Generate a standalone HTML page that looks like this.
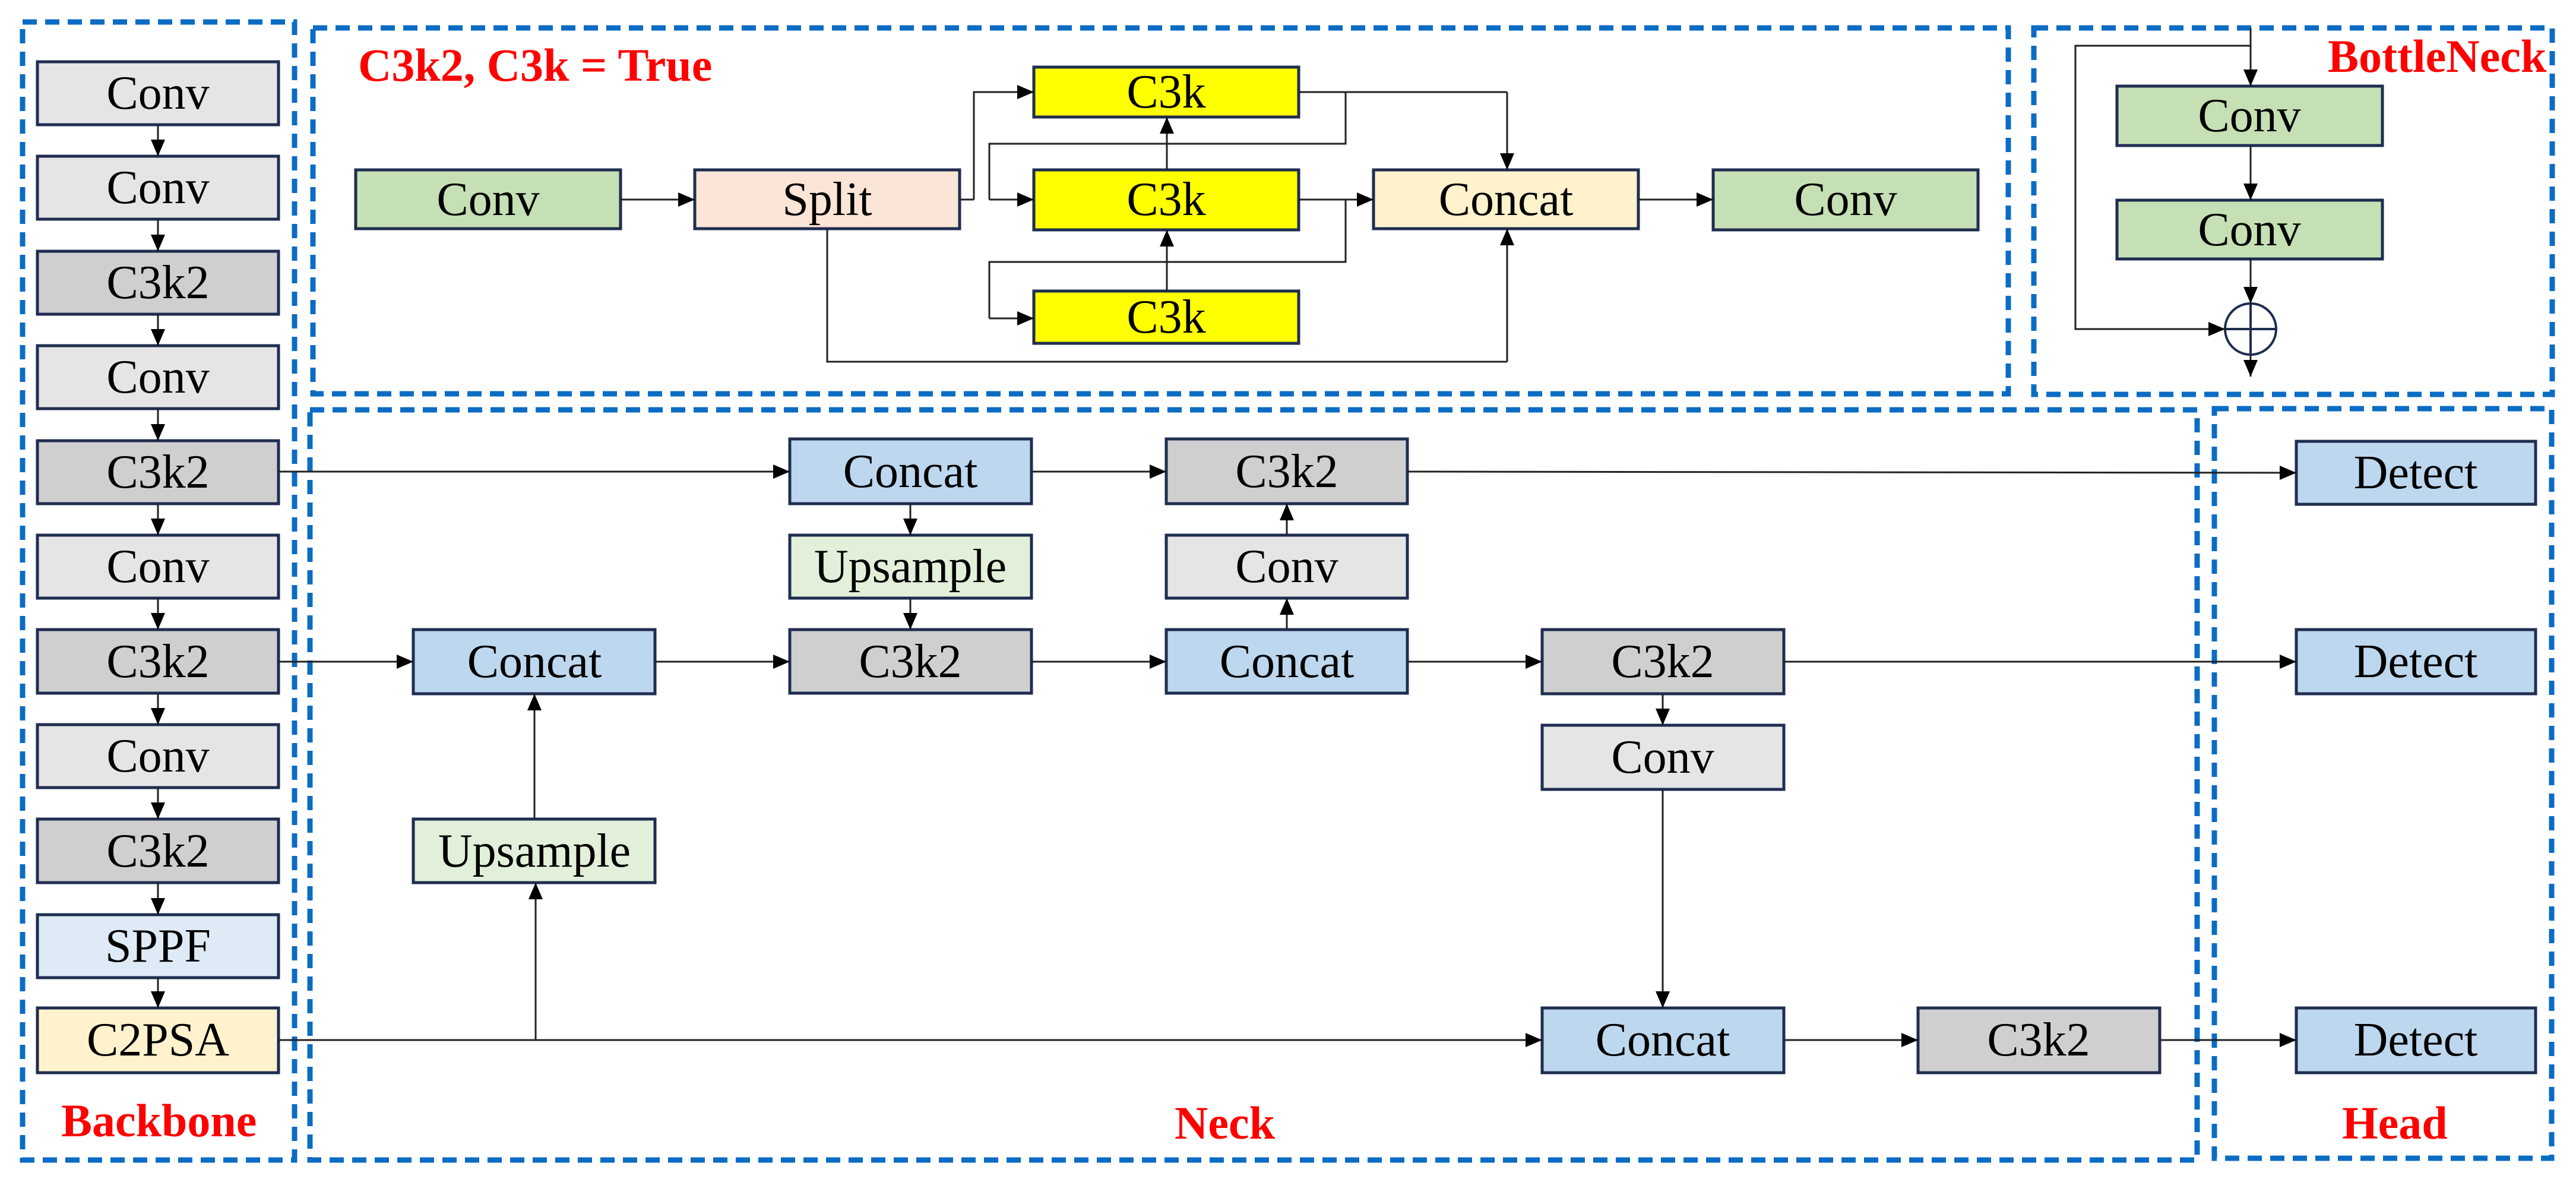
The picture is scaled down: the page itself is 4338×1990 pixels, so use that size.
<!DOCTYPE html>
<html><head><meta charset="utf-8"><style>
html,body{margin:0;padding:0;background:#fff;}
svg{display:block;}
text{font-family:"Liberation Serif",serif;}
.t{font-size:80px;text-anchor:middle;dominant-baseline:central;fill:#000;}
.r{font-size:78px;font-weight:bold;fill:#ff0000;}
.b{stroke:#1f2d50;stroke-width:5;}
.l{stroke:#222;stroke-width:3;fill:none;}
.d{fill:none;stroke:#0b6cc4;stroke-width:9;stroke-dasharray:24 14;}
</style></head><body>
<svg width="4338" height="1990" viewBox="0 0 4338 1990" xmlns="http://www.w3.org/2000/svg">
<defs>
<marker id="a" markerUnits="userSpaceOnUse" markerWidth="30" markerHeight="24" refX="28" refY="12" orient="auto">
<path d="M0,0 L28,12 L0,24 Z" fill="#000"/></marker>
</defs>

<!-- dashed regions -->
<rect class="d" x="38" y="37" width="458" height="1916"/>
<rect class="d" x="527" y="47" width="2855" height="616"/>
<rect class="d" x="3425" y="47" width="873" height="617"/>
<rect class="d" x="522" y="690" width="3178" height="1263"/>
<rect class="d" x="3729" y="688" width="568" height="1262"/>

<!-- labels -->
<text class="r" x="603" y="136">C3k2, C3k = True</text>
<text class="r" x="3920" y="121">BottleNeck</text>
<text class="r" x="103" y="1913">Backbone</text>
<text class="r" x="1978" y="1917">Neck</text>
<text class="r" x="3944" y="1917">Head</text>

<!-- backbone -->
<g>
<rect class="b" x="63" y="104" width="406" height="106" fill="#e6e5e6"/><text class="t" x="266" y="157">Conv</text>
<rect class="b" x="63" y="263" width="406" height="106" fill="#e6e5e6"/><text class="t" x="266" y="316">Conv</text>
<rect class="b" x="63" y="423" width="406" height="106" fill="#d0cfcf"/><text class="t" x="266" y="476">C3k2</text>
<rect class="b" x="63" y="582" width="406" height="106" fill="#e6e5e6"/><text class="t" x="266" y="635">Conv</text>
<rect class="b" x="63" y="742" width="406" height="106" fill="#d0cfcf"/><text class="t" x="266" y="795">C3k2</text>
<rect class="b" x="63" y="901" width="406" height="106" fill="#e6e5e6"/><text class="t" x="266" y="954">Conv</text>
<rect class="b" x="63" y="1060" width="406" height="107" fill="#d0cfcf"/><text class="t" x="266" y="1114">C3k2</text>
<rect class="b" x="63" y="1220" width="406" height="106" fill="#e6e5e6"/><text class="t" x="266" y="1273">Conv</text>
<rect class="b" x="63" y="1379" width="406" height="107" fill="#d0cfcf"/><text class="t" x="266" y="1433">C3k2</text>
<rect class="b" x="63" y="1540" width="406" height="106" fill="#deebf7"/><text class="t" x="266" y="1593">SPPF</text>
<rect class="b" x="63" y="1697" width="406" height="109" fill="#fff2cc"/><text class="t" x="266" y="1751">C2PSA</text>
</g>
<g class="l" marker-end="url(#a)">
<line x1="266" y1="210" x2="266" y2="263"/>
<line x1="266" y1="369" x2="266" y2="423"/>
<line x1="266" y1="529" x2="266" y2="582"/>
<line x1="266" y1="688" x2="266" y2="742"/>
<line x1="266" y1="848" x2="266" y2="901"/>
<line x1="266" y1="1007" x2="266" y2="1060"/>
<line x1="266" y1="1167" x2="266" y2="1220"/>
<line x1="266" y1="1326" x2="266" y2="1379"/>
<line x1="266" y1="1486" x2="266" y2="1540"/>
<line x1="266" y1="1646" x2="266" y2="1697"/>
</g>

<!-- C3k2 top module -->
<rect class="b" x="599" y="286" width="446" height="99" fill="#c5e0b4"/><text class="t" x="822" y="336">Conv</text>
<rect class="b" x="1170" y="286" width="446" height="99" fill="#fbe5d6"/><text class="t" x="1393" y="336">Split</text>
<rect class="b" x="1741" y="113" width="446" height="84" fill="#ffff00"/><text class="t" x="1964" y="155">C3k</text>
<rect class="b" x="1741" y="286" width="446" height="101" fill="#ffff00"/><text class="t" x="1964" y="336">C3k</text>
<rect class="b" x="1741" y="490" width="446" height="88" fill="#ffff00"/><text class="t" x="1964" y="534">C3k</text>
<rect class="b" x="2313" y="286" width="446" height="99" fill="#fff2cc"/><text class="t" x="2536" y="336">Concat</text>
<rect class="b" x="2885" y="286" width="446" height="101" fill="#c5e0b4"/><text class="t" x="3108" y="336">Conv</text>
<g class="l">
<line x1="2187" y1="155" x2="2538" y2="155"/>
<polyline points="2266,155 2266,242 1666,242 1666,336"/>
<polyline points="2187,336 2266,336 2266,441 1666,441 1666,536"/>
<line x1="1616" y1="336" x2="1640" y2="336"/>
<polyline points="1393,385 1393,609 2538,609"/>
</g>
<g class="l" marker-end="url(#a)">
<line x1="1045" y1="336" x2="1170" y2="336"/>
<polyline points="1640,336 1640,155 1741,155"/>
<line x1="1666" y1="336" x2="1741" y2="336"/>
<line x1="1666" y1="536" x2="1741" y2="536"/>
<line x1="2187" y1="336" x2="2313" y2="336"/>
<line x1="2538" y1="155" x2="2538" y2="286"/>
<line x1="2538" y1="609" x2="2538" y2="385"/>
<line x1="1965" y1="286" x2="1965" y2="197"/>
<line x1="1965" y1="490" x2="1965" y2="387"/>
<line x1="2759" y1="336" x2="2885" y2="336"/>
</g>

<!-- BottleNeck -->
<rect class="b" x="3565" y="145" width="447" height="100" fill="#c5e0b4"/><text class="t" x="3788" y="195">Conv</text>
<rect class="b" x="3565" y="337" width="447" height="99" fill="#c5e0b4"/><text class="t" x="3788" y="387">Conv</text>
<ellipse cx="3790" cy="554" rx="43" ry="43" fill="#fff" stroke="#1f2d50" stroke-width="4"/>
<line x1="3747" y1="554" x2="3833" y2="554" stroke="#1f2d50" stroke-width="4"/>
<line x1="3790" y1="511" x2="3790" y2="597" stroke="#1f2d50" stroke-width="4"/>
<g class="l">
<line x1="3790" y1="47" x2="3790" y2="77"/>
</g>
<g class="l" marker-end="url(#a)">
<line x1="3790" y1="77" x2="3790" y2="145"/>
<line x1="3790" y1="245" x2="3790" y2="337"/>
<line x1="3790" y1="436" x2="3790" y2="511"/>
<polyline points="3790,77 3495,77 3495,554 3747,554"/>
<line x1="3790" y1="597" x2="3790" y2="634"/>
</g>

<!-- Neck -->
<rect class="b" x="696" y="1060" width="407" height="108" fill="#bdd7ee"/><text class="t" x="900" y="1114">Concat</text>
<rect class="b" x="696" y="1379" width="407" height="107" fill="#e2f0d9"/><text class="t" x="900" y="1433">Upsample</text>
<rect class="b" x="1330" y="739" width="407" height="109" fill="#bdd7ee"/><text class="t" x="1533" y="794">Concat</text>
<rect class="b" x="1330" y="901" width="407" height="106" fill="#e2f0d9"/><text class="t" x="1533" y="954">Upsample</text>
<rect class="b" x="1330" y="1060" width="407" height="107" fill="#d0cfcf"/><text class="t" x="1533" y="1114">C3k2</text>
<rect class="b" x="1964" y="739" width="406" height="109" fill="#d0cfcf"/><text class="t" x="2167" y="794">C3k2</text>
<rect class="b" x="1964" y="901" width="406" height="106" fill="#e6e5e6"/><text class="t" x="2167" y="954">Conv</text>
<rect class="b" x="1964" y="1060" width="406" height="107" fill="#bdd7ee"/><text class="t" x="2167" y="1114">Concat</text>
<rect class="b" x="2597" y="1060" width="407" height="108" fill="#d0cfcf"/><text class="t" x="2800" y="1114">C3k2</text>
<rect class="b" x="2597" y="1221" width="407" height="108" fill="#e6e5e6"/><text class="t" x="2800" y="1275">Conv</text>
<rect class="b" x="2597" y="1697" width="407" height="109" fill="#bdd7ee"/><text class="t" x="2800" y="1751">Concat</text>
<rect class="b" x="3230" y="1697" width="407" height="109" fill="#d0cfcf"/><text class="t" x="3433" y="1751">C3k2</text>
<!-- Head -->
<rect class="b" x="3867" y="743" width="403" height="106" fill="#bdd7ee"/><text class="t" x="4068" y="796">Detect</text>
<rect class="b" x="3867" y="1060" width="403" height="108" fill="#bdd7ee"/><text class="t" x="4068" y="1114">Detect</text>
<rect class="b" x="3867" y="1697" width="403" height="109" fill="#bdd7ee"/><text class="t" x="4068" y="1751">Detect</text>

<g class="l" marker-end="url(#a)">
<line x1="469" y1="794" x2="1330" y2="794"/>
<line x1="469" y1="1114" x2="696" y2="1114"/>
<line x1="469" y1="1751" x2="2597" y2="1751"/>
<line x1="902" y1="1751" x2="902" y2="1486"/>
<line x1="900" y1="1379" x2="900" y2="1168"/>
<line x1="1103" y1="1114" x2="1330" y2="1114"/>
<line x1="1533" y1="848" x2="1533" y2="901"/>
<line x1="1533" y1="1007" x2="1533" y2="1060"/>
<line x1="1737" y1="794" x2="1964" y2="794"/>
<line x1="1737" y1="1114" x2="1964" y2="1114"/>
<line x1="2167" y1="1060" x2="2167" y2="1007"/>
<line x1="2167" y1="901" x2="2167" y2="848"/>
<line x1="2370" y1="794" x2="3867" y2="796"/>
<line x1="2370" y1="1114" x2="2597" y2="1114"/>
<line x1="3004" y1="1114" x2="3867" y2="1114"/>
<line x1="2800" y1="1168" x2="2800" y2="1221"/>
<line x1="2800" y1="1329" x2="2800" y2="1697"/>
<line x1="3004" y1="1751" x2="3230" y2="1751"/>
<line x1="3637" y1="1751" x2="3867" y2="1751"/>
</g>
</svg>
</body></html>
